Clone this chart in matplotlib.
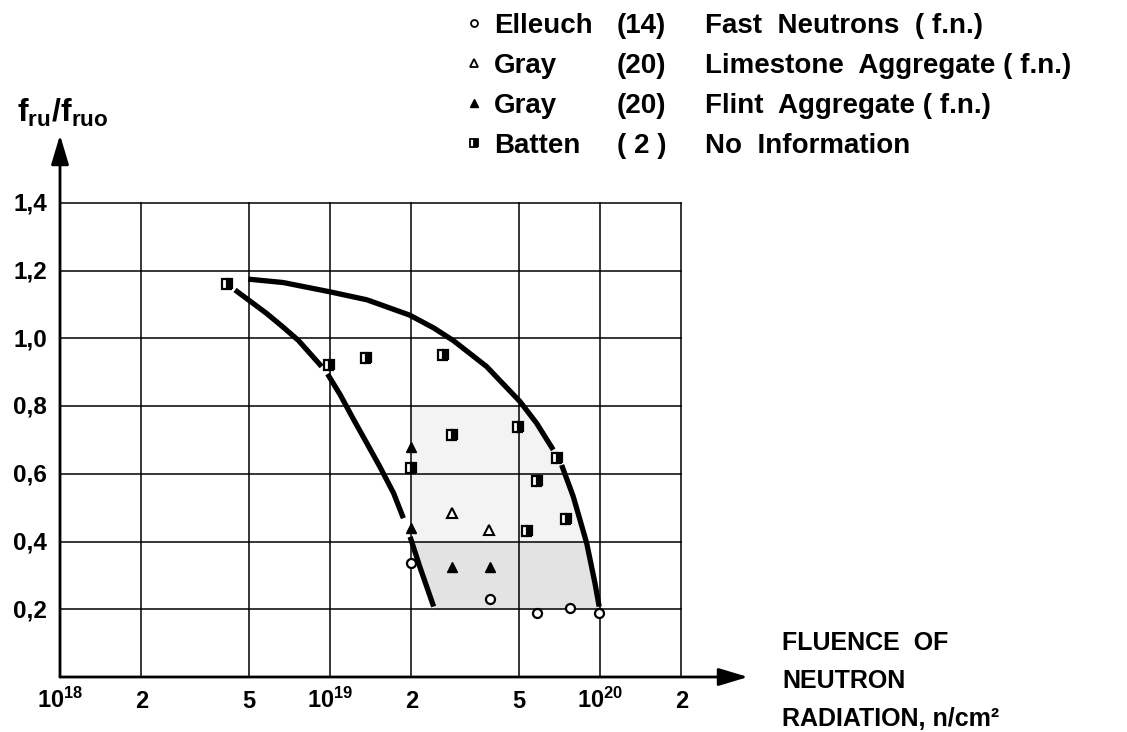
import numpy as np
import matplotlib
matplotlib.use("Agg")
import matplotlib.pyplot as plt
from matplotlib.lines import Line2D

plt.rcParams["font.family"] = ["Liberation Sans", "DejaVu Sans"]
plt.rcParams["font.weight"] = "bold"
plt.rcParams["mathtext.fontset"] = "custom"
plt.rcParams["mathtext.rm"] = "Liberation Sans:bold"
plt.rcParams["mathtext.bf"] = "Liberation Sans:bold"
plt.rcParams["mathtext.it"] = "Liberation Sans:bold"

# ---- data ----
x_ticks = [1e18, 2e18, 5e18, 1e19, 2e19, 5e19, 1e20, 2e20]
x_tick_labels = [r"$10^{18}$", "2", "5", r"$10^{19}$", "2", "5", r"$10^{20}$", "2"]
y_ticks = [0.2, 0.4, 0.6, 0.8, 1.0, 1.2, 1.4]
y_tick_labels = ["0,2", "0,4", "0,6", "0,8", "1,0", "1,2", "1,4"]

elleuch_x = [2.0e19, 3.9e19, 5.86e19, 7.74e19, 9.93e19]
elleuch_y = [0.336, 0.230, 0.190, 0.205, 0.188]

limestone_x = [2.83e19, 3.89e19]
limestone_y = [0.485, 0.434]

flint_x = [2.0e19, 2.0e19, 2.83e19, 3.9e19]
flint_y = [0.680, 0.439, 0.324, 0.324]

batten_x = [4.14e18, 9.93e18, 1.36e19, 2.63e19, 2.83e19, 2.0e19,
            4.97e19, 6.94e19, 5.83e19, 7.5e19, 5.35e19]
batten_y = [1.160, 0.920, 0.941, 0.951, 0.715, 0.617,
            0.739, 0.646, 0.580, 0.467, 0.432]

# upper envelope curve (two segments, broken at a marker)
upper1_x = [4.98e18, 6.71e18, 9.93e18, 1.37e19, 1.97e19, 2.42e19,
            2.87e19, 3.80e19, 5.06e19, 5.83e19, 6.71e19]
upper1_y = [1.175, 1.165, 1.138, 1.114, 1.069, 1.031,
            0.993, 0.917, 0.813, 0.749, 0.671]
upper2_x = [7.21e19, 7.96e19, 8.93e19, 9.58e19, 9.93e19]
upper2_y = [0.626, 0.533, 0.395, 0.277, 0.208]

# lower envelope curve (three segments)
lower1_x = [4.45e18, 5.82e18, 6.71e18, 7.64e18, 9.31e18]
lower1_y = [1.143, 1.074, 1.033, 0.994, 0.917]
lower2_x = [9.79e18, 1.09e19, 1.22e19, 1.37e19, 1.53e19, 1.72e19, 1.87e19]
lower2_y = [0.895, 0.834, 0.762, 0.690, 0.621, 0.543, 0.469]
lower3_x = [1.98e19, 2.15e19, 2.42e19]
lower3_y = [0.414, 0.326, 0.208]

legend_names = ["Elleuch", "Gray", "Gray", "Batten"]
legend_refs = ["(14)", "(20)", "(20)", "( 2 )"]
legend_desc = ["Fast  Neutrons  ( f.n.)", "Limestone  Aggregate ( f.n.)",
               "Flint  Aggregate ( f.n.)", "No  Information"]

# ---- figure ----
W, H = 1127, 732
fig = plt.figure(figsize=(W / 100, H / 100), dpi=100)

x0_px, x1_px, y0_px, y1_px = 60, 748, 677, 135
ax = fig.add_axes([x0_px / W, (H - y0_px) / H, (x1_px - x0_px) / W, (y0_px - y1_px) / H])
ax.set_xscale("log")
xmax = 10 ** (18 + (x1_px - x0_px) / 270)
ymax = (y0_px - y1_px) / 338.6
ax.set_xlim(1e18, xmax)
ax.set_ylim(0, ymax)
ax.axis("off")

# grid box
for xv in x_ticks[1:]:
    ax.plot([xv, xv], [0, 1.4], color="black", lw=1.1, zorder=1)
for yv in y_ticks:
    ax.plot([1e18, 2e20], [yv, yv], color="black", lw=1.1, zorder=1)

# axes with arrows
arrow_kw = dict(arrowstyle="-|>,head_length=1.0,head_width=0.3", color="black",
                lw=2.0, shrinkA=0, shrinkB=0, mutation_scale=18)
ax.annotate("", xy=(xmax, 0), xytext=(1e18, 0), arrowprops=arrow_kw, annotation_clip=False)
ax.annotate("", xy=(1e18, ymax), xytext=(1e18, 0), arrowprops=arrow_kw, annotation_clip=False)

# tick labels
for xv, lab in zip(x_ticks, x_tick_labels):
    ax.annotate(lab, (xv, 0), xytext=(0, -22.5), textcoords="offset points",
                ha="center", va="baseline", fontsize=17, fontweight="bold",
                annotation_clip=False)
for yv, lab in zip(y_ticks, y_tick_labels):
    ax.annotate(lab, (1e18, yv), xytext=(-9.5, -5.6), textcoords="offset points",
                ha="right", va="baseline", fontsize=17.5, fontweight="bold",
                annotation_clip=False)

# shaded region between the envelopes
lower_x = np.log10(lower2_x + lower3_x)
lower_y = np.array(lower2_y + lower3_y)
upper_x = np.log10(upper1_x + upper2_x)
upper_y = np.array(upper1_y + upper2_y)
yy = np.linspace(0.2, 0.4, 60)
left = 10 ** np.interp(yy, lower_y[::-1], lower_x[::-1])
right = 10 ** np.interp(yy, upper_y[::-1], upper_x[::-1])
ax.fill_betweenx(yy, left, right, color="#e3e3e3", lw=0, zorder=0)
yy2 = np.linspace(0.4, 0.8, 60)
right2 = 10 ** np.interp(yy2, upper_y[::-1], upper_x[::-1])
ax.fill_betweenx(yy2, np.full_like(yy2, 2.0e19), right2, color="#f3f3f3", lw=0, zorder=0)

# envelope curves
for cx, cy in [(upper1_x, upper1_y), (upper2_x, upper2_y),
               (lower1_x, lower1_y), (lower2_x, lower2_y), (lower3_x, lower3_y)]:
    ax.plot(cx, cy, color="black", lw=3.8, solid_capstyle="butt",
            solid_joinstyle="round", zorder=3)

# data points
mk = dict(linestyle="none", zorder=5, clip_on=False)
ax.plot(elleuch_x, elleuch_y, marker="o", ms=6.5, mfc="white", mec="black", mew=1.6, **mk)
ax.plot(limestone_x, limestone_y, marker="^", ms=7, mfc="white", mec="black", mew=1.5, **mk)
ax.plot(flint_x, flint_y, marker="^", ms=7, mfc="black", mec="black", **mk)
ax.plot(batten_x, batten_y, marker="s", ms=7, fillstyle="right", mfc="black",
        markerfacecoloralt="white", mec="black", mew=1.6, **mk)

# y axis label
fig.text(17 / W, 1 - 122 / H, r"$\mathbf{f_{ru}/f_{ruo}}$", fontsize=23,
         ha="left", va="baseline")

# x axis label
for txt, base in zip(["FLUENCE  OF", "NEUTRON", "RADIATION, n/cm²"], [650, 688, 726]):
    fig.text(782 / W, 1 - base / H, txt, fontsize=18, fontweight="bold",
             ha="left", va="baseline")

# legend at the top
legend_markers = [
    dict(marker="o", ms=5, mfc="white", mec="black", mew=1.3),
    dict(marker="^", ms=5.5, mfc="white", mec="black", mew=1.3),
    dict(marker="^", ms=5.5, mfc="black", mec="black"),
    dict(marker="s", ms=5.5, fillstyle="right", mfc="black",
         markerfacecoloralt="white", mec="black", mew=1.3),
]
baselines = [33, 73, 113, 153]
for base, m, name, ref, desc in zip(baselines, legend_markers, legend_names,
                                    legend_refs, legend_desc):
    fig.add_artist(Line2D([474 / W], [1 - (base - 10) / H], transform=fig.transFigure,
                          linestyle="none", **m))
    fig.text(494 / W, 1 - base / H, name, fontsize=20, fontweight="bold", va="baseline")
    fig.text(617 / W, 1 - base / H, ref, fontsize=20, fontweight="bold", va="baseline")
    fig.text(705 / W, 1 - base / H, desc, fontsize=20, fontweight="bold", va="baseline")

fig.savefig("out.png", dpi=100, facecolor="white")
